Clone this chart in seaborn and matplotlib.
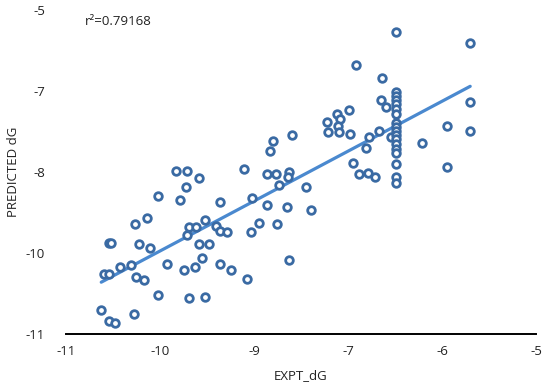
import numpy as np
import pandas as pd
import matplotlib
matplotlib.use("Agg")
import matplotlib.pyplot as plt
import seaborn as sns
from matplotlib.ticker import FixedLocator, FuncFormatter

expt_dg = [
    -9.60, -9.45, -9.30, -9.47, -9.82, -9.54, -9.04, -9.96, -10.12, -9.22,
    -9.43, -9.34, -9.09, -9.03, -8.94, -9.46, -10.45, -10.43, -10.07, -9.93,
    -9.30, -9.18, -9.26, -9.71, -9.35, -9.04, -9.50, -8.90, -10.31, -10.17,
    -10.51, -10.45, -10.11, -10.01, -9.83, -9.43, -9.22, -10.55, -10.45, -10.37,
    -10.13, -8.63, -8.44, -8.64, -8.54, -8.31, -8.69, -8.73, -8.44, -8.32,
    -8.15, -8.17, -8.28, -7.94, -8.18, -7.87, -8.15, -8.36, -8.40, -8.11,
    -7.67, -7.54, -7.50, -7.53, -7.65, -7.51, -7.38, -7.39, -7.30, -6.97,
    -6.98, -6.92, -7.00, -7.13, -6.85, -7.17, -7.34, -7.26, -7.14, -7.06,
    -6.46, -6.14, -6.14, -5.84, -5.84, -5.84,
    -6.79, -6.79, -6.79, -6.79, -6.79, -6.79, -6.79, -6.79, -6.79, -6.79,
    -6.79, -6.79, -6.79, -6.79, -6.79, -6.79, -6.79, -6.79,
]
pred_dg = [
    -7.98, -7.99, -8.12, -8.28, -8.44, -8.52, -8.56, -8.85, -8.97, -8.89,
    -9.02, -9.01, -9.00, -9.09, -9.11, -9.17, -9.32, -9.32, -9.34, -9.40,
    -9.33, -9.33, -9.60, -9.70, -9.76, -9.71, -9.81, -9.81, -9.76, -9.73,
    -9.88, -9.89, -9.95, -10.00, -10.28, -10.33, -10.32, -10.56, -10.75, -10.79,
    -10.63, -8.49, -8.61, -9.11, -8.94, -8.96, -9.99, -7.94, -8.03, -8.03,
    -8.00, -8.10, -8.25, -8.28, -8.65, -8.70, -9.63, -7.42, -7.62, -7.31,
    -7.07, -6.93, -7.02, -7.14, -7.26, -7.26, -7.29, -6.85, -6.01, -6.26,
    -6.67, -6.80, -7.24, -7.36, -7.36, -7.55, -7.84, -8.04, -8.01, -8.09,
    -7.47, -7.15, -7.90, -5.62, -6.71, -7.24,
    -5.41, -6.52, -6.59, -6.67, -6.74, -6.83, -6.93, -7.09, -7.17, -7.24,
    -7.31, -7.39, -7.48, -7.57, -7.65, -7.85, -8.09, -8.20,
]
x_ticks = [-11, -9.8, -8.6, -7.4, -6.2, -5]
y_ticks = [-11, -9.5, -8, -6.5, -5]
r2_label = "r\u00b2=0.79168"

df = pd.DataFrame({"EXPT_dG": expt_dg, "PREDICTED dG": pred_dg})

sns.set_style("white")
plt.rcParams["font.family"] = ["Open Sans", "DejaVu Sans"]

fig = plt.figure(figsize=(5.43, 3.90), dpi=100)
ax = fig.add_axes([66 / 543, 1 - 334 / 390, 470 / 543, 324 / 390])

sns.regplot(
    data=df, x="EXPT_dG", y="PREDICTED dG", ax=ax, ci=None,
    scatter_kws=dict(s=30, facecolors="white", edgecolors="#3a6aa3",
                     linewidths=2.0, alpha=1, zorder=3),
    line_kws=dict(color="#4a89cf", lw=2.3, zorder=2),
)

ax.set_xlim(-11, -5)
ax.set_ylim(-11, -5)

# excel style labels: rounded, half away from zero
def excel_round(v, pos):
    return "%d" % (np.sign(v) * np.floor(abs(v) + 0.5))

ax.xaxis.set_major_locator(FixedLocator(x_ticks))
ax.yaxis.set_major_locator(FixedLocator(y_ticks))
ax.xaxis.set_major_formatter(FuncFormatter(excel_round))
ax.yaxis.set_major_formatter(FuncFormatter(excel_round))
ax.tick_params(axis="both", length=0, labelsize=9.5, colors="#222222")
ax.tick_params(axis="x", pad=8)
ax.tick_params(axis="y", pad=15)

for side in ["top", "right", "left"]:
    ax.spines[side].set_visible(False)
ax.spines["bottom"].set_color("black")
ax.spines["bottom"].set_linewidth(1.4)

ax.set_xlabel("EXPT_dG", fontsize=9.5, color="#222222", labelpad=8)
ax.set_ylabel("PREDICTED dG", fontsize=9.5, color="#222222", labelpad=4)

ax.text(0.04, 0.985, r2_label, transform=ax.transAxes, fontsize=9.5,
        va="top", ha="left", color="#222222")

fig.savefig("out.png", dpi=100)
